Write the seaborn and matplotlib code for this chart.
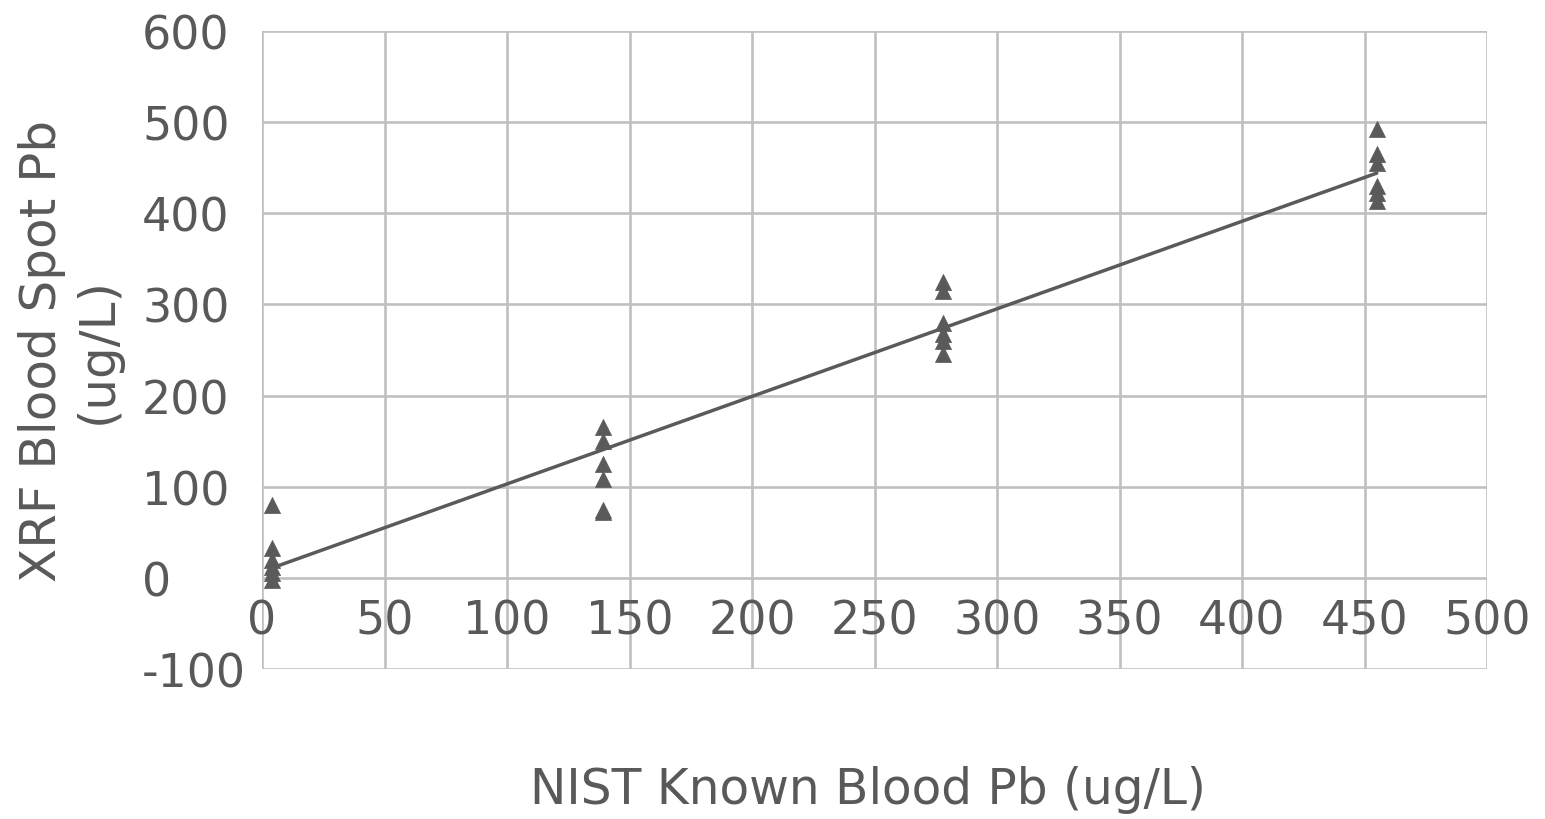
import numpy as np
import pandas as pd
import matplotlib
matplotlib.use("Agg")
import matplotlib.pyplot as plt
import seaborn as sns

# Data
known_pb = [4, 4, 4, 4, 4, 4,
            139, 139, 139, 139, 139, 139,
            278, 278, 278, 278, 278, 278,
            455, 455, 455, 455, 455, 455]
xrf_pb = [80, 33, 20, 12, 5, -2,
          166, 150, 125, 108, 75, 72,
          325, 315, 280, 268, 260, 246,
          493, 465, 455, 430, 422, 413]
x_ticks = [0, 50, 100, 150, 200, 250, 300, 350, 400, 450, 500]
y_ticks = [-100, 0, 100, 200, 300, 400, 500, 600]

sns.set_theme(style="white")
plt.rcParams["font.family"] = ["DejaVu Sans"]

TEXT = "#595959"
GRID = "#c0c0c0"
MARK = "#5a5a5a"

df = pd.DataFrame({"known": known_pb, "xrf": xrf_pb})

fig = plt.figure(figsize=(15.45, 8.2), dpi=100)
ax = fig.add_axes([262 / 1545, 1 - 670 / 820, 1225 / 1545, 638 / 820])

# trend line (least squares fit of the data)
slope, intercept = np.polyfit(df["known"], df["xrf"], 1)
fit_x = np.array([df["known"].min(), df["known"].max()])
fit_df = pd.DataFrame({"x": fit_x, "y": slope * fit_x + intercept})
sns.lineplot(data=fit_df, x="x", y="y", ax=ax, color=MARK, linewidth=2.5, zorder=3)

sns.scatterplot(data=df, x="known", y="xrf", ax=ax, marker="^", s=135,
                color=MARK, edgecolor=MARK, linewidth=0.5, zorder=4, clip_on=False)

ax.set_xlim(0, 500)
ax.set_ylim(-100, 600)
ax.set_xticks(x_ticks)
ax.set_yticks(y_ticks)
ax.set_xticklabels([str(v) for v in x_ticks])
ax.set_yticklabels([str(v) for v in y_ticks])
ax.grid(True, color=GRID, linewidth=1.9)
ax.set_axisbelow(True)
for sp in ax.spines.values():
    sp.set_visible(False)
ax.spines["bottom"].set_position(("data", 0))

ax.tick_params(axis="x", length=0, pad=15, labelsize=33, colors=TEXT)
ax.tick_params(axis="y", length=0, pad=(262 - 142) / (100 / 72), labelsize=33, colors=TEXT)
for lbl in ax.get_yticklabels():
    lbl.set_horizontalalignment("left")

ax.set_xlabel("NIST Known Blood Pb (ug/L)", fontsize=35, color=TEXT)
ax.xaxis.label.set_va("center")
ax.xaxis.set_label_coords((868 - 262) / 1225, (670 - 790) / 638)

ax.set_ylabel("XRF Blood Spot Pb\n(ug/L)", fontsize=36, color=TEXT,
              multialignment="center", linespacing=1.2)
ax.yaxis.label.set_va("center")
ax.yaxis.set_label_coords((70 - 262) / 1225, 0.5)

fig.savefig("out.png", dpi=100, facecolor="white")
